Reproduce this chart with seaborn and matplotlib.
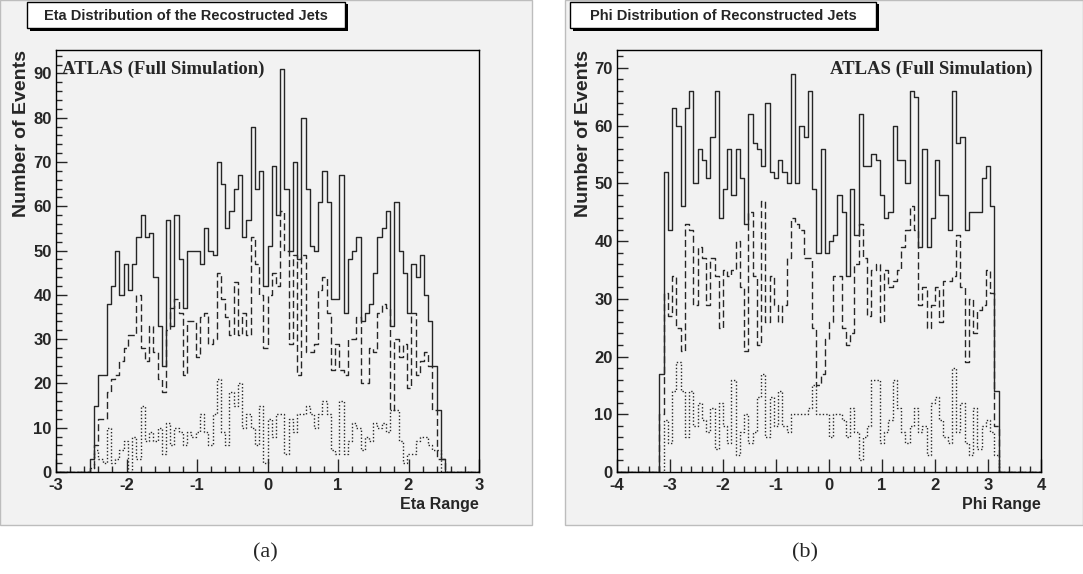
import numpy as np
import pandas as pd
import matplotlib
matplotlib.use("Agg")
import matplotlib.pyplot as plt
import seaborn as sns
from matplotlib import font_manager
from matplotlib.patches import Rectangle
from matplotlib.ticker import MultipleLocator

# ---- data ----------------------------------------------------------------
# eta: 100 bins on [-3, 3]; values given from bin 8 up to bin 91
eta_range = (-3, 3)
eta_first = 8
eta_all = [3, 15, 22, 22, 38, 42, 50, 40, 47, 41, 47, 53, 58, 53, 54, 44, 33, 24, 57, 33,
           58, 48, 37, 50, 50, 50, 47, 55, 50, 49, 70, 65, 55, 59, 64, 67, 53, 57, 78, 64,
           68, 42, 51, 69, 58, 91, 64, 50, 70, 48, 80, 64, 51, 50, 61, 68, 61, 39, 39, 67,
           36, 48, 50, 53, 34, 36, 38, 45, 53, 55, 59, 33, 61, 50, 45, 36, 47, 44, 49, 40,
           34, 24, 14, 3]
eta_dash = [1, 6, 12, 12, 18, 21, 22, 25, 28, 31, 31, 40, 28, 25, 33, 27, 21, 18, 32, 37,
            39, 36, 22, 34, 34, 26, 35, 36, 29, 30, 45, 39, 35, 31, 43, 31, 36, 31, 53, 47,
            40, 28, 40, 45, 42, 59, 50, 29, 49, 22, 49, 27, 27, 29, 41, 44, 36, 23, 29, 23,
            22, 30, 30, 35, 20, 20, 28, 27, 36, 38, 37, 14, 30, 26, 29, 19, 36, 22, 25, 27,
            24, 14, 3, 3]
eta_dot = [1, 5, 3, 2, 10, 2, 3, 5, 7, 0, 8, 3, 15, 7, 9, 7, 10, 4, 11, 6,
           10, 9, 6, 9, 8, 9, 13, 9, 6, 13, 21, 9, 6, 18, 15, 20, 10, 13, 10, 6,
           15, 2, 12, 8, 13, 13, 4, 12, 9, 13, 13, 15, 13, 10, 13, 16, 13, 5, 4, 16,
           4, 7, 11, 10, 5, 8, 7, 11, 10, 11, 9, 14, 14, 7, 2, 4, 4, 7, 8, 8,
           6, 5, 5, 0]

# phi: 100 bins on [-4, 4]; values given from bin 10 up to bin 89
phi_range = (-4, 4)
phi_first = 10
phi_all = [17, 52, 42, 63, 60, 46, 63, 66, 50, 56, 54, 51, 58, 66, 44, 49, 56, 48, 56, 51,
           43, 62, 57, 56, 53, 64, 52, 51, 54, 52, 50, 69, 50, 60, 58, 66, 49, 38, 56, 38,
           40, 41, 48, 45, 34, 49, 41, 62, 53, 53, 55, 54, 48, 44, 45, 60, 54, 54, 50, 66,
           65, 39, 56, 39, 44, 54, 48, 48, 42, 66, 57, 58, 42, 45, 45, 45, 51, 53, 46, 14]
phi_dash = [10, 31, 27, 34, 25, 21, 43, 42, 29, 39, 37, 29, 37, 34, 25, 35, 34, 35, 40, 32,
            21, 45, 34, 22, 47, 26, 34, 29, 26, 29, 37, 44, 43, 42, 37, 37, 25, 15, 17, 23,
            26, 34, 34, 25, 22, 24, 36, 43, 37, 27, 35, 36, 26, 35, 32, 33, 35, 39, 42, 46,
            42, 29, 32, 25, 29, 32, 26, 33, 33, 34, 41, 32, 19, 30, 24, 28, 29, 35, 31, 8]
phi_dot = [0, 9, 5, 14, 19, 14, 6, 14, 8, 12, 9, 7, 11, 4, 12, 8, 5, 16, 3, 7,
           10, 5, 7, 13, 17, 6, 13, 8, 14, 8, 7, 10, 10, 10, 10, 11, 15, 10, 10, 10,
           6, 10, 10, 9, 6, 11, 7, 2, 6, 8, 16, 16, 5, 7, 9, 16, 11, 7, 5, 8,
           11, 7, 8, 3, 12, 13, 9, 6, 5, 18, 7, 12, 5, 3, 11, 4, 8, 9, 7, 3]

n_bins = 100

# ---- style -----------------------------------------------------------------
sns.set_style("ticks")
names = {f.name for f in font_manager.fontManager.ttflist}
narrow = "Liberation Sans Narrow" if "Liberation Sans Narrow" in names else "Liberation Sans"
plt.rcParams["font.family"] = [narrow, "DejaVu Sans"]
plt.rcParams["axes.unicode_minus"] = False

W, H = 1083, 574
fig = plt.figure(figsize=(W / 100, H / 100), dpi=100)
fig.patch.set_facecolor("white")
panel_bg = "#f2f2f2"
line_col = "#262626"


def fx(x):
    return x / W


def fy(y):
    return 1 - y / H


# grey pads behind each plot
for x0, x1 in [(0, 532), (565, 1083)]:
    fig.patches.append(Rectangle((fx(x0), fy(525)), (x1 - x0) / W, 525 / H,
                                 transform=fig.transFigure, facecolor=panel_bg,
                                 edgecolor="#bdbdbd", lw=1, zorder=-5))


def draw_hist(ax, rng, first, vals, ls):
    edges = np.linspace(rng[0], rng[1], n_bins + 1)
    full = np.zeros(n_bins)
    full[first:first + len(vals)] = vals
    df = pd.DataFrame({"x": (edges[:-1] + edges[1:]) / 2, "w": full})
    sns.histplot(data=df, x="x", weights="w", bins=list(edges), element="step",
                 fill=False, color=line_col, linewidth=1.0, linestyle=ls, ax=ax)


def setup(ax, xlim, ytop, ymax_tick):
    ax.set_facecolor(panel_bg)
    ax.set_xlim(*xlim)
    ax.set_ylim(0, ytop)
    ax.set_xticks(range(xlim[0], xlim[1] + 1))
    ax.set_yticks(range(0, ymax_tick + 1, 10))
    ax.xaxis.set_minor_locator(MultipleLocator(0.2))
    ax.yaxis.set_minor_locator(MultipleLocator(2))
    ax.tick_params(axis="x", which="major", direction="in", length=9.5, width=1,
                   labelsize=12, pad=4)
    ax.tick_params(axis="x", which="minor", direction="in", length=4.5, width=1)
    ax.tick_params(axis="y", which="major", direction="in", length=8, width=1,
                   labelsize=12, pad=3)
    ax.tick_params(axis="y", which="minor", direction="in", length=4, width=1)
    for lab in ax.get_xticklabels() + ax.get_yticklabels():
        lab.set_fontweight("bold")
    for s in ax.spines.values():
        s.set_linewidth(1)
        s.set_color("black")
    ax.set_xlabel("")
    ax.set_ylabel("")


ls_dash = (0, (5, 2.5))
ls_dot = (0, (1, 1.5))

ax1 = fig.add_axes([fx(56), fy(472), 423 / W, 422 / H])
draw_hist(ax1, eta_range, eta_first, eta_all, "-")
draw_hist(ax1, eta_range, eta_first, eta_dash, ls_dash)
draw_hist(ax1, eta_range, eta_first, eta_dot, ls_dot)
setup(ax1, (-3, 3), 95.3, 90)

ax2 = fig.add_axes([fx(617), fy(472), 424 / W, 422 / H])
draw_hist(ax2, phi_range, phi_first, phi_all, "-")
draw_hist(ax2, phi_range, phi_first, phi_dash, ls_dash)
draw_hist(ax2, phi_range, phi_first, phi_dot, ls_dot)
setup(ax2, (-4, 4), 73.1, 70)

# ---- text ----------------------------------------------------------------
for xl in (22, 584):
    fig.text(fx(xl), fy(50), "Number of Events", rotation=90, ha="center", va="top",
             fontsize=14, fontweight="bold", family="Liberation Sans")
fig.text(fx(479), fy(505), "Eta Range", ha="right", va="center", fontsize=11.5,
         fontweight="bold")
fig.text(fx(1041), fy(505), "Phi Range", ha="right", va="center", fontsize=11.5,
         fontweight="bold")

fig.text(fx(62), fy(69), "ATLAS (Full Simulation)", ha="left", va="center",
         fontsize=13.5, fontweight="bold", family="Liberation Serif")
fig.text(fx(1033), fy(69), "ATLAS (Full Simulation)", ha="right", va="center",
         fontsize=13.5, fontweight="bold", family="Liberation Serif")

# title boxes with shadow
for (x0, x1), title in [((27, 345), "Eta Distribution of the Recostructed Jets"),
                        ((570, 876), "Phi Distribution of Reconstructed Jets")]:
    fig.patches.append(Rectangle((fx(x0 + 3), fy(31)), (x1 - x0) / W, 27 / H,
                                 transform=fig.transFigure, facecolor="black",
                                 edgecolor="black", lw=0, zorder=3))
    fig.patches.append(Rectangle((fx(x0), fy(28)), (x1 - x0) / W, 26 / H,
                                 transform=fig.transFigure, facecolor="white",
                                 edgecolor="black", lw=1, zorder=4))
    fig.text(fx((x0 + x1) / 2), fy(16), title, ha="center", va="center",
             fontsize=10.5, fontweight="bold", zorder=5)

fig.text(fx(265), fy(553), "(a)", ha="center", va="center", fontsize=16,
         family="Liberation Serif")
fig.text(fx(805), fy(553), "(b)", ha="center", va="center", fontsize=16,
         family="Liberation Serif")

fig.savefig("out.png", dpi=100, facecolor=fig.get_facecolor())
